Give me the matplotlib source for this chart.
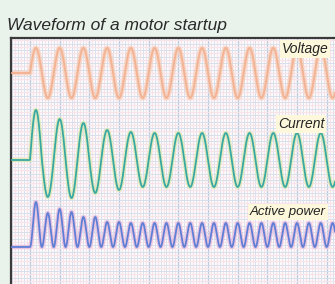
import numpy as np
import matplotlib.pyplot as plt
from matplotlib import font_manager

# == Values (units: px-like chart units, time in ms) == #
period_ms = 20.0
t_start, t_end = -16.0, 257.0

volt_base, volt_amp = 211.0, 25.0

curr_base = 124.0
curr_peaks = [50, 41, 37, 30, 28, 27, 27, 27, 27, 27, 27, 27, 27]
curr_troughs = [37, 38, 33, 30, 27, 27, 27, 27, 27, 27, 27, 27, 27]

pow_base = 37.0
pow_peaks = [45, 34, 38, 35, 30, 30, 25, 25, 24, 24, 24, 24, 24,
             24, 24, 24, 24, 24, 24, 24, 24, 24, 24, 24, 24, 24]

labels = ['Voltage', 'Current', 'Active power']
title = 'Waveform of a motor startup'

# == Font == #
names = {f.name for f in font_manager.fontManager.ttflist}
narrow = 'Liberation Sans Narrow' if 'Liberation Sans Narrow' in names else 'Liberation Sans'

# == Build the traces == #
t = np.linspace(t_start, t_end, 3000)
ph = 2 * np.pi * t / period_ms
on = t >= 0
half = np.clip((t // (period_ms / 2)).astype(int), 0, None)

volt = volt_base + np.where(on, volt_amp * np.sin(ph), 0)

cyc = np.clip(half // 2, 0, len(curr_peaks) - 1)
s = np.sin(ph)
curr_amp = np.where(s >= 0, np.take(curr_peaks, cyc), np.take(curr_troughs, cyc))
curr = curr_base + np.where(on, curr_amp * s, 0)

hc = np.clip(half, 0, len(pow_peaks) - 1)
pw = pow_base + np.where(on, np.take(pow_peaks, hc) * s ** 2, 0)

# == Figure == #
W, H = 335, 284
fig = plt.figure(figsize=(W / 100, H / 100), dpi=100)
fig.patch.set_facecolor('#e9f3eb')
ax = fig.add_axes([11 / W, 0, 324 / W, 246 / H])
ax.set_facecolor('#fdfcfd')
ax.set_xlim(t_start, t_end)
ax.set_ylim(0, 246)

# grid: blue lines with pink in between
for x in np.arange(-15, t_end, 5):
    major = (x % 25) == 0
    ax.axvline(x, color='#bccadc' if major else '#d8e0ec', lw=1.0 if major else 0.7, zorder=0)
    ax.axvline(x + 2.5, color='#f7e4ea', lw=0.9, zorder=0)
for y in np.arange(0, 246, 6.5):
    ax.axhline(y, color='#d8e0ec', lw=0.7, zorder=0)
    ax.axhline(y + 3.25, color='#f7e4ea', lw=0.9, zorder=0)

# traces with a soft halo
ax.plot(t, volt, color='#f8cdb6', lw=3.6, alpha=0.7, zorder=2)
ax.plot(t, volt, color='#f2ab88', lw=1.4, alpha=0.8, zorder=3)
ax.plot(t, curr, color='#dde9b0', lw=3.2, alpha=0.8, zorder=2)
ax.plot(t, curr, color='#3aa8a2', lw=1.3, zorder=3)
ax.plot(t, pw, color='#e6bcdc', lw=3.2, alpha=0.8, zorder=2)
ax.plot(t, pw, color='#5f7fd6', lw=1.3, zorder=3)

ax.set_xticks([])
ax.set_yticks([])
for side in ('right', 'bottom'):
    ax.spines[side].set_visible(False)
for side in ('left', 'top'):
    ax.spines[side].set_color('#3a3a3a')
    ax.spines[side].set_linewidth(1.6)

box = dict(boxstyle='square,pad=0.15', fc='#fdf8dc', ec='none')
label_pos = [(305, 49), (301, 124), (288, 212)]
sizes = [10, 10, 9.5]
for lab, (px, py), fs in zip(labels, label_pos, sizes):
    fig.text(px / W, 1 - py / H, lab, ha='center', va='center', fontsize=fs,
             style='italic', family=narrow, color='#222222', bbox=box, zorder=5)

fig.text(7 / W, 1 - 30 / H, title, ha='left', va='baseline', fontsize=12.5,
         style='italic', family=narrow, color='#2a2a2a')

fig.savefig('out.png', dpi=100, facecolor=fig.get_facecolor())
